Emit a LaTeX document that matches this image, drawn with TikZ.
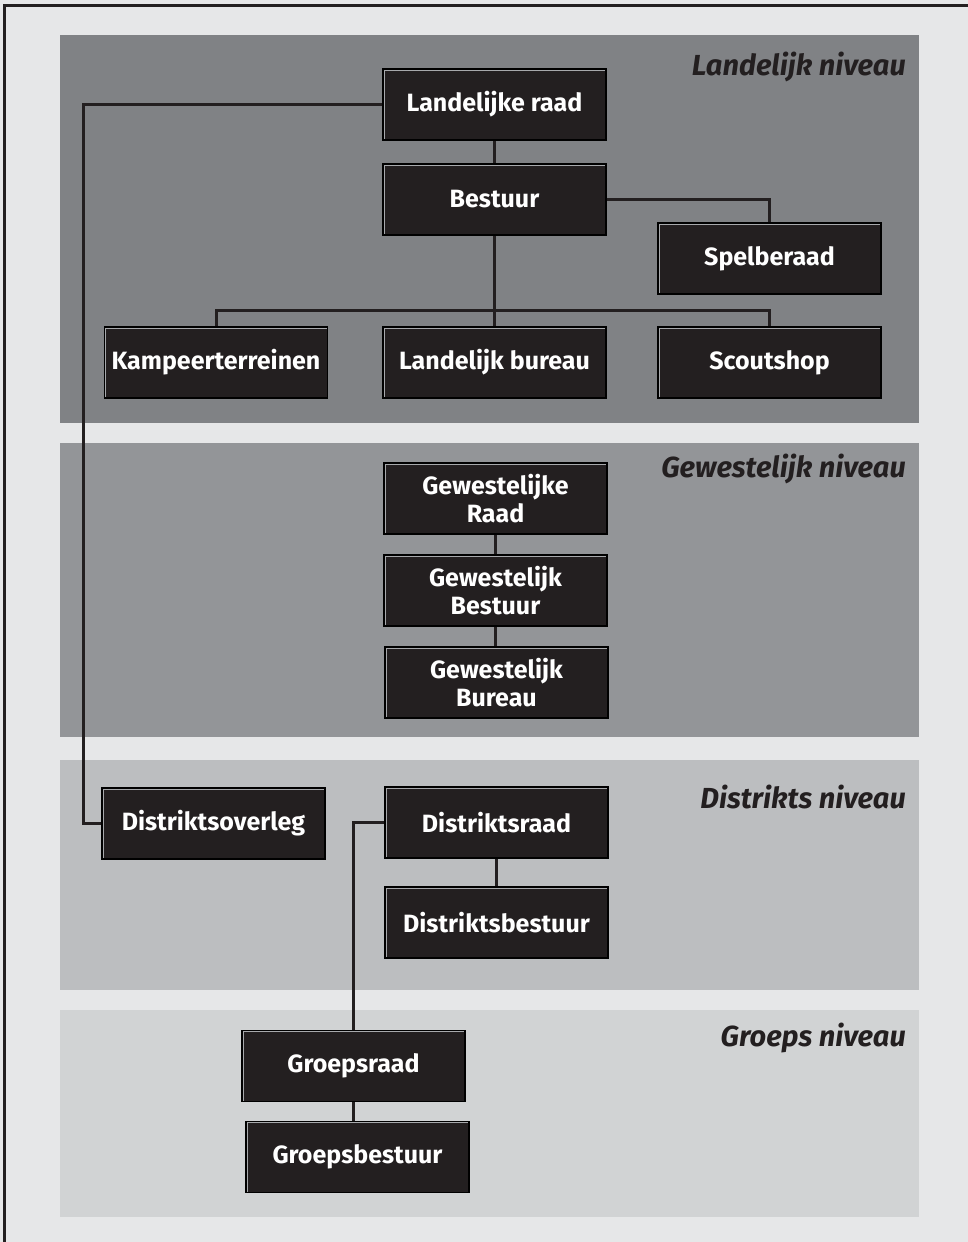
\documentclass[tikz,border=0pt]{standalone}
\usepackage{fontspec}
\setmainfont{Fira Sans}
\definecolor{bgc}{HTML}{E6E7E8}
\definecolor{bandA}{HTML}{808285}
\definecolor{bandB}{HTML}{939598}
\definecolor{bandC}{HTML}{BCBEC0}
\definecolor{bandD}{HTML}{D1D3D4}
\definecolor{boxc}{HTML}{231F20}
\definecolor{hlc}{HTML}{A7A9AC}
\tikzset{
  box/.style={fill=boxc, text=white, draw=black, line width=1.2pt,
    font=\bfseries\fontsize{25}{28}\selectfont,
    minimum width=223pt, minimum height=71pt, inner sep=0pt, align=center,
    path picture={\draw[hlc,line width=3pt] (path picture bounding box.south west) -- (path picture bounding box.north west) -- (path picture bounding box.north east);}},
  conn/.style={draw=boxc, line width=3pt},
  level/.style={anchor=east, text=boxc, font=\bfseries\itshape\fontsize{29}{32}\selectfont, inner sep=0pt}
}
\begin{document}
\begin{tikzpicture}[x=1pt,y=-1pt]
\useasboundingbox (0,0) rectangle (968,1242);
\clip (0,0) rectangle (968,1242);
\fill[bgc] (0,0) rectangle (968,1242);
\draw[boxc,line width=3pt] (4.5,1260) -- (4.5,5.5) -- (990,5.5);
% bands
\fill[bandA] (60,35) rectangle (919,423);
\fill[bandB] (60,443) rectangle (919,737);
\fill[bandC] (60,760) rectangle (919,990);
\fill[bandD] (60,1010) rectangle (919,1217);
% level labels
\node[level] (l1) at (906,67) {Landelijk niveau};
\node[level] (l2) at (906,469) {Gewestelijk niveau};
\node[level] (l3) at (906,797) {Distrikts niveau};
\node[level] (l4) at (906,1038) {Groeps niveau};
% nodes
\node[box] (lr) at (494.5,104.5) {Landelijke raad};
\node[box] (bes) at (494.5,199.5) {Bestuur};
\node[box] (spel) at (769.5,258.5) {Spelberaad};
\node[box] (kamp) at (216,362.5) {Kampeerterreinen};
\node[box] (lb) at (494.5,362.5) {Landelijk bureau};
\node[box] (scout) at (769.5,362.5) {Scoutshop};
\node[box] (gr1) at (495.5,498.5) {Gewestelijke\\Raad};
\node[box] (gr2) at (495.5,590.5) {Gewestelijk\\Bestuur};
\node[box] (gr3) at (496.5,682.5) {Gewestelijk\\Bureau};
\node[box] (dov) at (213.5,823.5) {Distriktsoverleg};
\node[box] (dr) at (496.5,822.5) {Distriktsraad};
\node[box] (db) at (496.5,922.5) {Distriktsbestuur};
\node[box] (grr) at (353.5,1066) {Groepsraad};
\node[box] (grb) at (357.5,1157) {Groepsbestuur};
% connectors
\draw[conn] (lr.west) -- ++(-299,0) |- (dov.west);
\draw[conn] (lr.south) -- (bes.north);
\draw[conn] (bes.east) -| (spel.north);
\draw[conn] (bes.south) -- (lb.north);
\draw[conn] (kamp.north) -- ++(0,-16) -| (scout.north);
\draw[conn] (gr1.south) -- (gr2.north);
\draw[conn] (gr2.south) -- (gr2.south |- gr3.north);
\draw[conn] (dr.west) -| (grr.north);
\draw[conn] (dr.south) -- (db.north);
\draw[conn] (grr.south) -- (grr.south |- grb.north);
\end{tikzpicture}
\end{document}
